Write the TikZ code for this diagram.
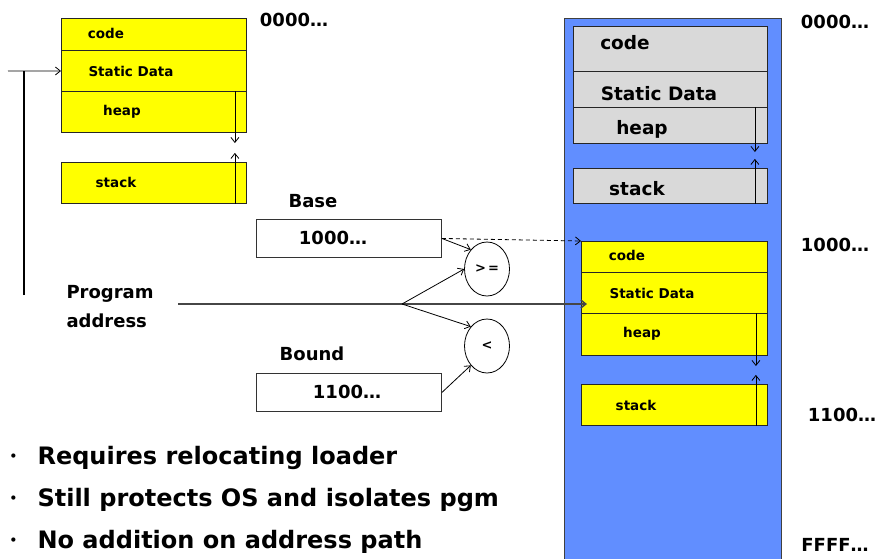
\documentclass[tikz,border=0pt]{standalone}
\usepackage{fontspec}
\setmainfont{DejaVu Sans}
\usetikzlibrary{arrows.meta,calc,positioning,shapes.geometric}

\definecolor{memblue}{RGB}{97,142,255}
\definecolor{segyellow}{RGB}{255,255,0}
\definecolor{seggray}{RGB}{217,217,217}
\definecolor{pathgray}{RGB}{70,70,70}

\newcommand{\notedot}{\makebox[28pt][l]{\raisebox{4pt}{\fontsize{12}{12}\selectfont •}}}

\tikzset{
  seg/.style={draw=black!85, line width=0.9pt, fill=segyellow, anchor=north west, inner sep=0pt},
  oldseg/.style={seg, fill=seggray},
  smalllbl/.style={font=\fontsize{13.5}{14}\selectfont\bfseries},
  biglbl/.style={font=\fontsize{18.5}{20}\selectfont\bfseries},
  addr/.style={font=\fontsize{18}{20}\selectfont\bfseries},
  regbox/.style={draw=black!80, line width=0.9pt, fill=white, anchor=north west,
    minimum width=185pt, minimum height=38pt, inner sep=0pt},
  cmp/.style={draw, ellipse, line width=0.8pt, minimum width=45pt, minimum height=54pt,
    inner sep=0pt, font=\fontsize{13}{13}\selectfont\bfseries},
  growarrow/.style={line width=0.8pt, -{Straight Barb[length=5pt,width=8pt]}},
  wire/.style={line width=0.8pt, -{Straight Barb[length=5pt,width=8pt]}},
  notetext/.style={anchor=west, font=\fontsize{24}{26}\selectfont\bfseries}
}

\begin{document}
\begin{tikzpicture}[x=1pt,y=-1pt]
\useasboundingbox (0,0) rectangle (877,558);

% Program image (left)
\node[seg, minimum width=185pt, minimum height=32pt] (lcode) at (61,18) {};
\node[seg, minimum width=185pt, minimum height=41pt] (lstatic) at (61,50) {};
\node[seg, minimum width=185pt, minimum height=41pt] (lheap) at (61,91) {};
\node[seg, minimum width=185pt, minimum height=41pt] (lstack) at (61,162) {};
\node[smalllbl] at (106,33) {code};
\node[smalllbl] at (131,71) {Static Data};
\node[smalllbl] at (122,112) {heap};
\node[smalllbl] at (116,182) {stack};
\draw[growarrow] ([xshift=-12pt]lheap.north east) -- ++(0,52);
\draw[growarrow] ([xshift=-12pt]lstack.south east) -- ++(0,-51);
\node[addr] (ltop) at (294,20) {0000…};

% Incoming address on the left
\coordinate (lin) at (8,71);
\coordinate (lfoot) at (24,295);
\draw[wire] (lin) -- (lstatic.west);
\draw[line width=1.8pt] (lfoot) -- (lfoot |- lin);

% Physical memory (right)
\node[draw=black!75, line width=1.2pt, fill=memblue, anchor=north west,
  minimum width=217pt, minimum height=545pt, inner sep=0pt] (mem) at (564,18) {};

% Old resident program (gray)
\node[oldseg, minimum width=194pt, minimum height=45pt] (gcode) at (573,26) {};
\node[oldseg, minimum width=194pt, minimum height=36pt] (gstatic) at (573,71) {};
\node[oldseg, minimum width=194pt, minimum height=36pt] (gheap) at (573,107) {};
\node[oldseg, minimum width=194pt, minimum height=35pt] (gstack) at (573,168) {};
\node[biglbl] at (625,43) {code};
\node[biglbl] at (659,94) {Static Data};
\node[biglbl] at (642,129) {heap};
\node[biglbl] at (637,189) {stack};
\draw[growarrow] ([xshift=-13pt]gheap.north east) -- ++(0,45);
\draw[growarrow] ([xshift=-13pt]gstack.south east) -- ++(0,-45);

% Relocated program (yellow)
\node[seg, minimum width=186pt, minimum height=31pt] (ycode) at (581,241) {};
\node[seg, minimum width=186pt, minimum height=41pt] (ystatic) at (581,272) {};
\node[seg, minimum width=186pt, minimum height=42pt] (yheap) at (581,313) {};
\node[seg, minimum width=186pt, minimum height=41pt] (ystack) at (581,384) {};
\node[smalllbl] at (627,255) {code};
\node[smalllbl] at (652,293) {Static Data};
\node[smalllbl] at (642,334) {heap};
\node[smalllbl] at (636,405) {stack};
\draw[growarrow] ([xshift=-12pt]yheap.north east) -- ++(0,53);
\draw[growarrow] ([xshift=-12pt]ystack.south east) -- ++(0,-51);

% Addresses on the right
\node[addr] at (835,22) {0000…};
\node[addr] at (835,245) {1000…};
\node[addr] at (842,415) {1100…};
\node[addr] at (835,545) {FFFF…};

% Base and bound registers
\node[addr] at (313,201) {Base};
\node[regbox] (base) at (256,219) {};
\node[addr] at (333,238) {1000…};
\node[addr] at (312,354) {Bound};
\node[regbox] (bound) at (256,373) {};
\node[addr] at (347,392) {1100…};

% Comparators
\node[cmp] (ge) at (487,269) {>\,=};
\node[cmp] (lt) at (487,346) {<};

% Program address path
\node[addr, anchor=west, align=left, font=\fontsize{18}{29}\selectfont\bfseries] (paddr) at (63,307) {Program\\address};
\coordinate (pstart) at (178,304);
\coordinate (fork) at (402,304);
\draw[line width=1.5pt, draw=pathgray, -{Straight Barb[length=5pt,width=8pt]}]
  (pstart) -- (fork) -- ([xshift=6pt]ystatic.west |- fork);
\draw[wire] (fork) -- (ge.west);
\draw[wire] (fork) -- (lt.north west);
\draw[wire] (base.east) -- (ge.north west);
\draw[wire] (bound.east) -- (lt.south west);
\draw[wire, dash pattern=on 4pt off 3pt] (base.east) -- (ycode.north west);

% Notes
\node[notetext] at (6,458) {\notedot Requires relocating loader};
\node[notetext] at (6,500) {\notedot Still protects OS and isolates pgm};
\node[notetext] at (6,542) {\notedot No addition on address path};

\end{tikzpicture}
\end{document}
